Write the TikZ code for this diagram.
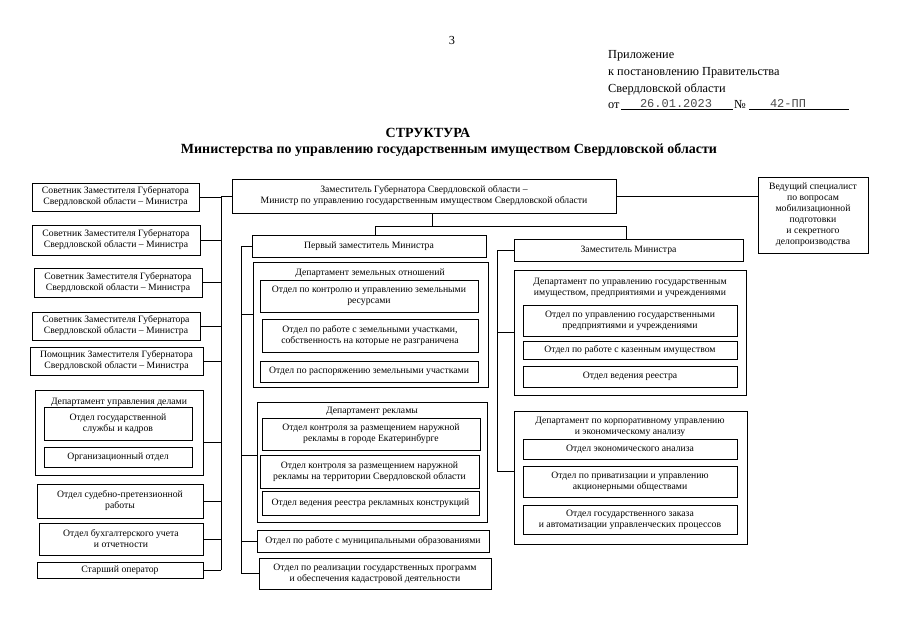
\documentclass[tikz,border=0pt]{standalone}
\usepackage{fontspec}
\setmainfont{Liberation Serif}
\newfontfamily\datefont{Liberation Mono}
\tikzset{
  box/.style={draw, line width=0.8pt, inner sep=0pt, align=center, font=\fontsize{9.7}{11}\selectfont},
  ttl/.style={inner sep=0pt, align=center, font=\fontsize{9.7}{10.5}\selectfont},
  conn/.style={line width=0.75pt},
  hdr/.style={inner sep=0pt, anchor=base west, font=\fontsize{12.3}{15}\selectfont},
}
\newcommand\mybox[6]{\node[box, minimum width={(#4-#2)*1pt}, minimum height={(#5-#3)*1pt}] (#1) at ({(#2+#4)/2},{(#3+#5)/2}) {#6};}
\begin{document}
\begin{tikzpicture}[x=1pt,y=-1pt]
\fill[white] (0,0) rectangle (905,640);
\useasboundingbox (0,0) rectangle (905,640);
% header
\node[hdr, anchor=base] (pg) at (452,44) {3};
\node[hdr] (h1) at (608,58) {Приложение};
\node[hdr] (h2) at (608,75) {к постановлению Правительства};
\node[hdr] (h3) at (608,92) {Свердловской области};
\node[hdr] (h4) at (608,108) {от};
\draw[line width=0.6pt] (621,109) -- (733,109);
\node[inner sep=0pt, anchor=base, font=\datefont\fontsize{12}{14}\selectfont, text=black!70] (hd) at (676,107) {26.01.2023};
\node[hdr] (h5) at (734,108) {№};
\draw[line width=0.6pt] (749,109) -- (849,109);
\node[inner sep=0pt, anchor=base, font=\datefont\fontsize{12}{14}\selectfont, text=black!70] (hn) at (788,107) {42-ПП};
\node[inner sep=0pt, font=\bfseries\fontsize{14}{16}\selectfont] (t1) at (428,133) {СТРУКТУРА};
\node[inner sep=0pt, font=\bfseries\fontsize{14}{16}\selectfont] (t2) at (449,150) {Министерства по управлению государственным имуществом Свердловской области};
% top
\mybox{main}{232}{179}{616}{213}{Заместитель Губернатора Свердловской области –\\Министр по управлению государственным имуществом Свердловской области}
\mybox{spec}{758}{177}{868}{253}{Ведущий специалист\\по вопросам\\мобилизационной\\подготовки\\и секретного\\делопроизводства}
% left column
\mybox{a1}{32}{183}{199}{211}{Советник Заместителя Губернатора\\Свердловской области – Министра}
\mybox{a2}{32}{225}{200}{255}{Советник Заместителя Губернатора\\Свердловской области – Министра}
\mybox{a3}{34}{268}{202}{297}{Советник Заместителя Губернатора\\Свердловской области – Министра}
\mybox{a4}{32}{312}{200}{340}{Советник Заместителя Губернатора\\Свердловской области – Министра}
\mybox{a5}{30}{347}{203}{375}{Помощник Заместителя Губернатора\\Свердловской области – Министра}
\mybox{ud}{35}{390}{203}{475}{}
\node[ttl] (udt) at (119,402) {Департамент управления делами};
\mybox{ud1}{44}{407}{192}{440}{Отдел государственной\\службы и кадров}
\mybox{ud2}{44}{447}{192}{467}{Организационный отдел}
\mybox{sud}{37}{484}{203}{518}{Отдел судебно-претензионной\\работы}
\mybox{buh}{39}{523}{203}{555}{Отдел бухгалтерского учета\\и отчетности}
\mybox{star}{37}{562}{203}{578}{Старший оператор}
% middle column
\mybox{fz}{252}{235}{486}{257}{Первый заместитель Министра}
\mybox{zem}{253}{262}{488}{387}{}
\node[ttl] (zemt) at (370,273) {Департамент земельных отношений};
\mybox{zem1}{260}{280}{478}{312}{Отдел по контролю и управлению земельными\\ресурсами}
\mybox{zem2}{262}{319}{478}{352}{Отдел по работе с земельными участками,\\собственность на которые не разграничена}
\mybox{zem3}{260}{361}{478}{382}{Отдел по распоряжению земельными участками}
\mybox{rek}{257}{402}{487}{522}{}
\node[ttl] (rekt) at (372,411) {Департамент рекламы};
\mybox{rek1}{262}{418}{480}{450}{Отдел контроля за размещением наружной\\рекламы в городе Екатеринбурге}
\mybox{rek2}{260}{455}{479}{488}{Отдел контроля за размещением наружной\\рекламы на территории Свердловской области}
\mybox{rek3}{262}{491}{479}{515}{Отдел ведения реестра рекламных конструкций}
\mybox{mun}{257}{530}{489}{552}{Отдел по работе с муниципальными образованиями}
\mybox{real}{259}{558}{491}{589}{Отдел по реализации государственных программ\\и обеспечения кадастровой деятельности}
% right column
\mybox{zm}{514}{239}{743}{261}{Заместитель Министра}
\mybox{gi}{514}{270}{746}{395}{}
\node[ttl] (git) at (630,288) {Департамент по управлению государственным\\имуществом, предприятиями и учреждениями};
\mybox{gi1}{523}{305}{737}{336}{Отдел по управлению государственными\\предприятиями и учреждениями}
\mybox{gi2}{523}{341}{737}{359}{Отдел по работе с казенным имуществом}
\mybox{gi3}{523}{366}{737}{387}{Отдел ведения реестра}
\mybox{ku}{514}{411}{747}{544}{}
\node[ttl] (kut) at (630,427) {Департамент по корпоративному управлению\\и экономическому анализу};
\mybox{ku1}{523}{439}{737}{459}{Отдел экономического анализа}
\mybox{ku2}{523}{466}{737}{497}{Отдел по приватизации и управлению\\акционерными обществами}
\mybox{ku3}{523}{505}{737}{534}{Отдел государственного заказа\\и автоматизации управленческих процессов}
% spines
\coordinate (L) at (221,0);
\coordinate (M) at (241,0);
\coordinate (R) at (497,0);
\coordinate (J1) at (375,226);
\coordinate (J2) at (626,226);
% left connectors
\draw[conn] (main.west) -- (main.west -| L) -- (star.east -| L);
\foreach \n in {a1,a2,a3,a4,a5,sud,buh,star} \draw[conn] (\n.east) -- (\n.east -| L);
\draw[conn] ([yshift=-10pt]ud.east) -- ([yshift=-10pt]ud.east -| L);
\draw[conn] (main.east) -- (main.east -| spec.west);
% top tree
\draw[conn] ([xshift=8pt]main.south) -- ([xshift=8pt]main.south |- J1);
\draw[conn] (J1) -- (J2);
\draw[conn] (J1) -- (J1 |- fz.north);
\draw[conn] (J2) -- (J2 |- zm.north);
% middle connectors
\draw[conn] (fz.west) -- (fz.west -| M) -- (real.west -| M);
\draw[conn] ([yshift=10pt]zem.west) -- ([yshift=10pt]zem.west -| M);
\draw[conn] ([yshift=7pt]rek.west) -- ([yshift=7pt]rek.west -| M);
\draw[conn] (mun.west) -- (mun.west -| M);
\draw[conn] (real.west) -- (real.west -| M);
% right connectors
\draw[conn] (zm.west) -- (zm.west -| R) -- ([yshift=6pt]ku.west -| R);
\draw[conn] (gi.west) -- (gi.west -| R);
\draw[conn] ([yshift=6pt]ku.west) -- ([yshift=6pt]ku.west -| R);
\end{tikzpicture}
\end{document}
